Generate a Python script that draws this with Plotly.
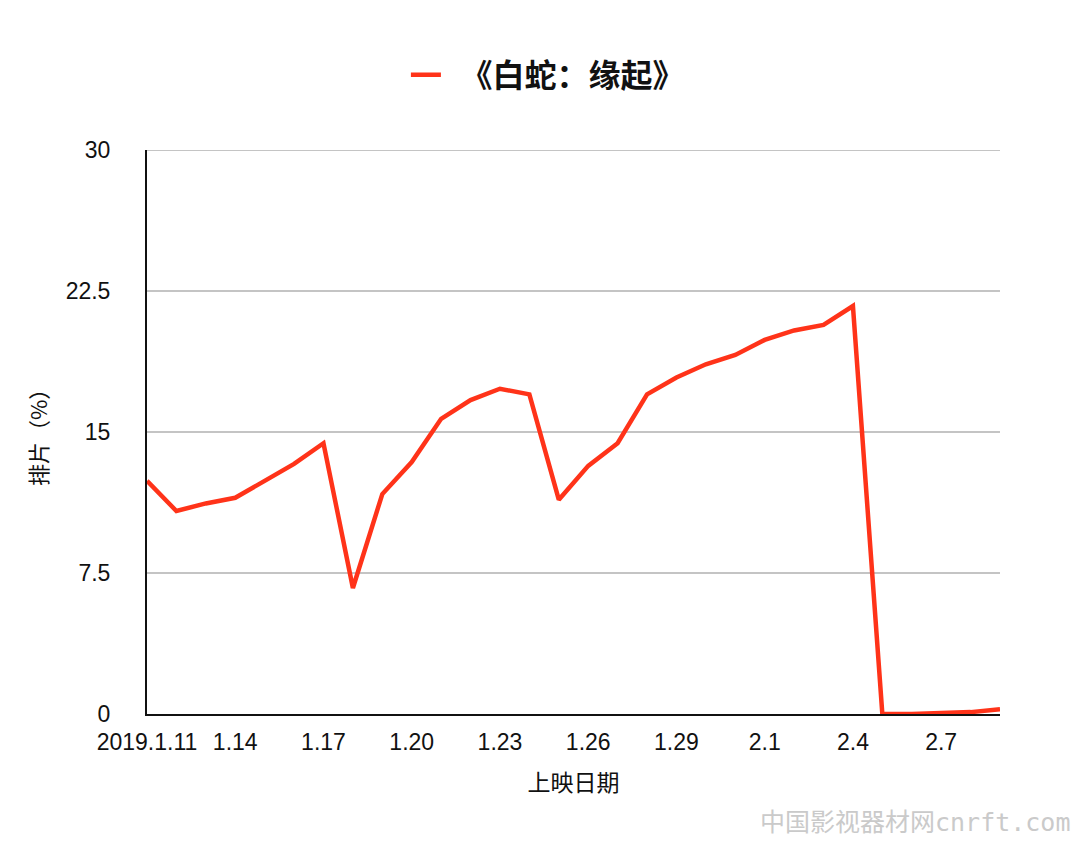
import plotly.graph_objects as go

# release days, 2019.1.11 - 2.9
dates = ["2019.1.11", "1.12", "1.13", "1.14", "1.15", "1.16", "1.17", "1.18", "1.19", "1.20",
         "1.21", "1.22", "1.23", "1.24", "1.25", "1.26", "1.27", "1.28", "1.29", "1.30",
         "1.31", "2.1", "2.2", "2.3", "2.4", "2.5", "2.6", "2.7", "2.8", "2.9"]
# screening share (%)
share = [12.4, 10.8, 11.2, 11.5, 12.4, 13.3, 14.4, 6.7, 11.7, 13.4,
         15.7, 16.7, 17.3, 17.0, 11.4, 13.2, 14.4, 17.0, 17.9, 18.6,
         19.1, 19.9, 20.4, 20.7, 21.7, 0.0, 0.0, 0.05, 0.1, 0.25]
tick_dates = dates[::3]
y_ticks = [0, 7.5, 15, 22.5, 30]
y_labels = ["0", "7.5", "15", "22.5", "30"]

base_font = "Liberation Sans, Noto Sans CJK SC, sans-serif"

fig = go.Figure()
fig.add_trace(go.Scatter(
    x=dates, y=share, mode="lines", name="  《白蛇：缘起》",
    line=dict(color="#ff3319", width=4.5),
))

fig.update_layout(
    width=1080, height=868,
    paper_bgcolor="white", plot_bgcolor="white",
    margin=dict(l=139, r=88, t=142, b=162),
    font=dict(family=base_font, size=23, color="#111"),
    showlegend=True,
    legend=dict(orientation="h", x=0.47, xanchor="center", y=1.133, yanchor="middle",
                font=dict(family="Noto Sans CJK SC", size=32, color="#111", weight="bold")),
    annotations=[dict(
        text="中国影视器材网cnrft.com", xref="paper", yref="paper",
        x=1.084, y=-0.1915, xanchor="right", yanchor="middle", showarrow=False,
        font=dict(family="DejaVu Sans Mono, Noto Sans CJK SC", size=25, color="#cacaca"),
    )],
)

# top gridline sits on the plot edge, plotly drops it, so draw it
fig.add_shape(type="line", xref="paper", yref="y", x0=0, x1=1,
              y0=y_ticks[-1], y1=y_ticks[-1], line=dict(color="#c4c4c4", width=2),
              layer="below")

fig.update_xaxes(
    type="category", range=[0, len(dates) - 1],
    tickvals=tick_dates, ticktext=tick_dates,
    showgrid=False, showline=True, linecolor="#111", linewidth=2,
    ticks="", ticklabelstandoff=6,
    title=dict(text="上映日期", standoff=21, font=dict(family="Noto Sans CJK SC", size=23)),
)
fig.update_yaxes(
    range=[0, 30], tickvals=y_ticks, ticktext=y_labels,
    showgrid=True, gridcolor="#c4c4c4", gridwidth=2,
    showline=True, linecolor="#111", linewidth=2, zeroline=False,
    ticks="", ticklabelstandoff=30,
    title=dict(text="排片（%）", standoff=12, font=dict(family="Noto Sans CJK SC", size=22)),
)

fig.write_html("out.html")
